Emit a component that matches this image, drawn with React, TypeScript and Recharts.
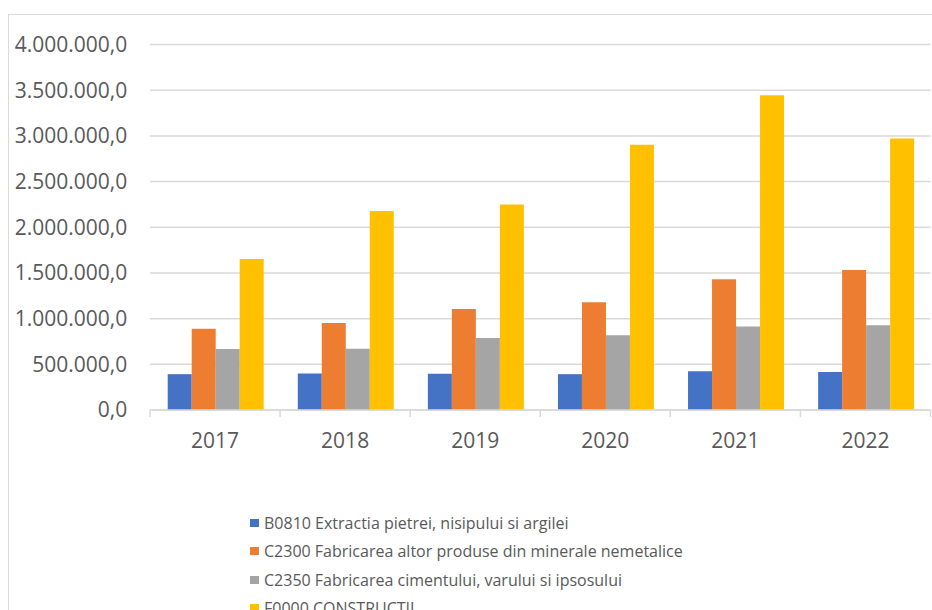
import { BarChart, Bar, XAxis, YAxis, CartesianGrid, Legend } from 'recharts'

const years = ['2017', '2018', '2019', '2020', '2021', '2022']
const b0810 = [392000, 399000, 398000, 392000, 424000, 416000]
const c2300 = [890000, 952000, 1106000, 1178000, 1432000, 1531000]
const c2350 = [667000, 670000, 787000, 819000, 913000, 928000]
const f0000 = [1652000, 2179000, 2250000, 2904000, 3444000, 2970000]
const yTicks = [0, 500000, 1000000, 1500000, 2000000, 2500000, 3000000, 3500000, 4000000]

const series = [
  { key: 'b0810', name: 'B0810 Extractia pietrei, nisipului si argilei', color: '#4472C4' },
  { key: 'c2300', name: 'C2300 Fabricarea altor produse din minerale nemetalice', color: '#ED7D31' },
  { key: 'c2350', name: 'C2350 Fabricarea cimentului, varului si ipsosului', color: '#A5A5A5' },
  { key: 'f0000', name: 'F0000 CONSTRUCTII', color: '#FFC000' },
]

const data = years.map((year, i) => ({
  year,
  b0810: b0810[i],
  c2300: c2300[i],
  c2350: c2350[i],
  f0000: f0000[i],
}))

const FONT = '"Open Sans", sans-serif'
const TEXT = '#595959'
const LINE = '#d9d9d9'
const BAND = (921.5 - 141) / years.length

const fmt = (v: number) => {
  const s = Math.round(v).toString().replace(/\B(?=(\d{3})+(?!\d))/g, '.')
  return `${s},0`
}

function YearTick({ x, y, payload, index }: any) {
  const half = payload?.offset || BAND / 2
  return (
    <g>
      <line x1={x - half} y1={y} x2={x - half} y2={y + 7} stroke={LINE} strokeWidth={1.5} />
      {index === years.length - 1 && (
        <line x1={x + half} y1={y} x2={x + half} y2={y + 7} stroke={LINE} strokeWidth={1.5} />
      )}
      <text x={x} y={y + 38} textAnchor="middle" fill={TEXT} fontSize={21} fontFamily={FONT}>
        {payload.value}
      </text>
    </g>
  )
}

function LegendList() {
  return (
    <div style={{ fontFamily: FONT, fontSize: 16, color: TEXT }}>
      {series.map(s => (
        <div key={s.key} style={{ height: 28.3, display: 'flex', alignItems: 'center', whiteSpace: 'nowrap' }}>
          <span style={{ display: 'inline-block', width: 8.5, height: 8, background: s.color, marginRight: 5.5 }} />
          <span>{s.name}</span>
        </div>
      ))}
    </div>
  )
}

export default function App() {
  return (
    <div
      style={{
        position: 'fixed', left: 8, top: 14, right: 0, bottom: 0, overflow: 'hidden',
        borderLeft: `1px solid ${LINE}`, borderTop: `1px solid ${LINE}`, background: '#fff',
      }}
    >
      <BarChart
        width={940}
        height={620}
        data={data}
        margin={{ top: 29.5, right: 18.5, left: 0, bottom: 195 }}
        barCategoryGap={17.7}
        barGap={0}
      >
        <CartesianGrid vertical={false} stroke={LINE} strokeWidth={1.5} />
        <XAxis
          dataKey="year"
          height={30}
          tickLine={false}
          tickSize={0}
          tickMargin={0}
          axisLine={{ stroke: LINE, strokeWidth: 1.5 }}
          tick={<YearTick />}
          interval={0}
        />
        <YAxis
          width={141}
          domain={[0, 4000000]}
          ticks={yTicks}
          axisLine={false}
          tickLine={false}
          tickSize={0}
          tickMargin={22.7}
          tickFormatter={fmt}
          tick={{ fill: TEXT, fontSize: 21, fontFamily: FONT }}
        />
        <Legend
          layout="vertical"
          verticalAlign="middle"
          align="center"
          content={<LegendList />}
          wrapperStyle={{ left: 241, top: 494, width: 'auto', height: 'auto' }}
        />
        {series.map(s => (
          <Bar key={s.key} dataKey={s.key} name={s.name} fill={s.color} isAnimationActive={false} />
        ))}
      </BarChart>
    </div>
  )
}
